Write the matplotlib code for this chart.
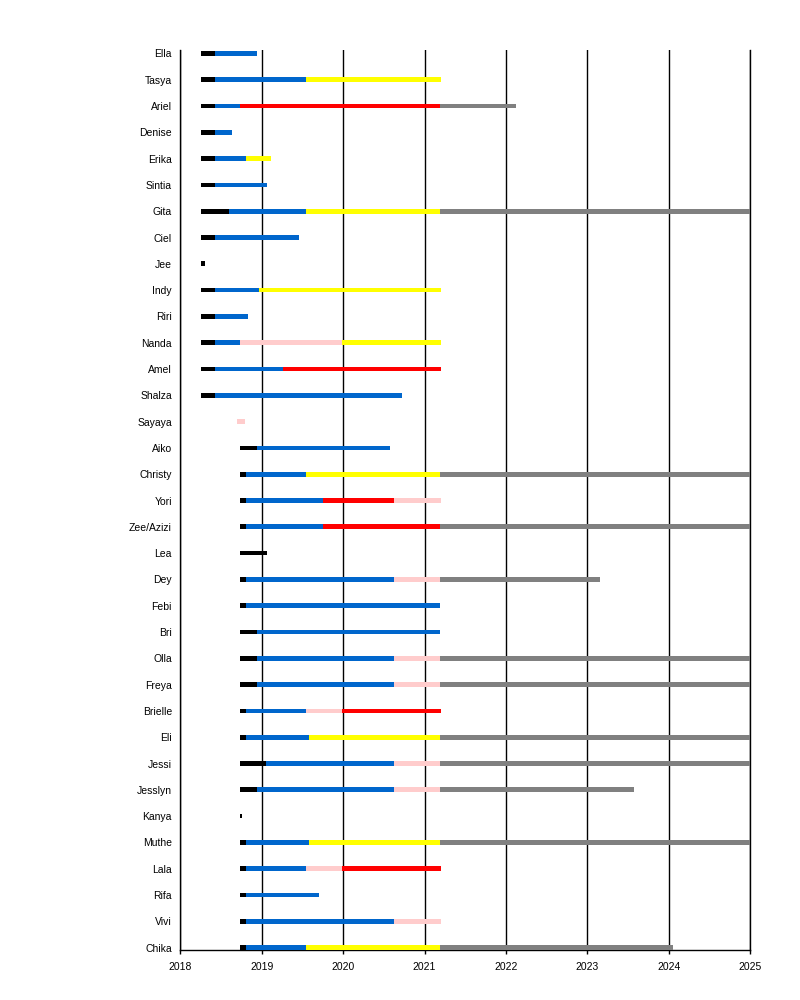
import matplotlib
matplotlib.use('Agg')
import matplotlib.pyplot as plt

plt.rcParams['font.family'] = ['Liberation Sans', 'DejaVu Sans']

# members, top to bottom
names = ['Ella', 'Tasya', 'Ariel', 'Denise', 'Erika', 'Sintia', 'Gita', 'Ciel',
         'Jee', 'Indy', 'Riri', 'Nanda', 'Amel', 'Shalza', 'Sayaya', 'Aiko',
         'Christy', 'Yori', 'Zee/Azizi', 'Lea', 'Dey', 'Febi', 'Bri', 'Olla',
         'Freya', 'Brielle', 'Eli', 'Jessi', 'Jesslyn', 'Kanya', 'Muthe', 'Lala',
         'Rifa', 'Vivi', 'Chika']

# phase boundaries (decimal years) for each member
edges = [
    [2018.254, 2018.426, 2018.942],
    [2018.254, 2018.426, 2019.540, 2021.20],
    [2018.254, 2018.426, 2018.729, 2021.19, 2022.123],
    [2018.254, 2018.426, 2018.635],
    [2018.254, 2018.426, 2018.807, 2019.114],
    [2018.254, 2018.426, 2019.065],
    [2018.254, 2018.598, 2019.540, 2021.19, 2025.0],
    [2018.254, 2018.426, 2019.458],
    [2018.254, 2018.303],
    [2018.254, 2018.426, 2018.966, 2021.20],
    [2018.254, 2018.426, 2018.831],
    [2018.254, 2018.426, 2018.733, 2019.982, 2021.20],
    [2018.254, 2018.426, 2019.265, 2021.20],
    [2018.254, 2018.426, 2020.722],
    [2018.696, 2018.795],
    [2018.733, 2018.942, 2020.571],
    [2018.733, 2018.807, 2019.540, 2021.19, 2025.0],
    [2018.733, 2018.807, 2019.752, 2020.624, 2021.20],
    [2018.733, 2018.807, 2019.752, 2021.19, 2025.0],
    [2018.733, 2019.065],
    [2018.733, 2018.807, 2020.624, 2021.19, 2023.155],
    [2018.733, 2018.807, 2021.19],
    [2018.733, 2018.942, 2021.19],
    [2018.733, 2018.942, 2020.624, 2021.19, 2025.0],
    [2018.733, 2018.942, 2020.624, 2021.19, 2025.0],
    [2018.733, 2018.807, 2019.540, 2019.982, 2021.20],
    [2018.733, 2018.807, 2019.581, 2021.19, 2025.0],
    [2018.733, 2019.053, 2020.624, 2021.19, 2025.0],
    [2018.733, 2018.942, 2020.624, 2021.19, 2023.572],
    [2018.733, 2018.758],
    [2018.733, 2018.807, 2019.581, 2021.19, 2025.0],
    [2018.733, 2018.807, 2019.540, 2019.982, 2021.20],
    [2018.733, 2018.807, 2019.704],
    [2018.733, 2018.807, 2020.624, 2021.20],
    [2018.733, 2018.807, 2019.540, 2021.19, 2024.047],
]

# phase code per segment
phases = ['KB', 'KBY', 'KBRG', 'KB', 'KBY', 'KB', 'KBYG', 'KB', 'K', 'KBY',
          'KB', 'KBPY', 'KBR', 'KB', 'P', 'KB', 'KBYG', 'KBRP', 'KBRG', 'K',
          'KBPG', 'KB', 'KB', 'KBPG', 'KBPG', 'KBPR', 'KBYG', 'KBPG', 'KBPG',
          'K', 'KBYG', 'KBPR', 'KB', 'KBP', 'KBYG']

colors = {'K': '#000000', 'B': '#0066cc', 'Y': '#ffff00', 'R': '#ff0000',
          'P': '#ffcccc', 'G': '#808080'}

fig = plt.figure(figsize=(8, 10), dpi=100)
ax = fig.add_axes([0.2254, 0.05, 0.7125, 0.90])

n = len(names)
for i, name in enumerate(names):
    y = n - 1 - i
    e = edges[i]
    for j, code in enumerate(phases[i]):
        ax.barh(y, e[j + 1] - e[j], left=e[j], height=0.18,
                color=colors[code], linewidth=0, zorder=3)

ax.set_xlim(2018, 2025)
ax.set_ylim(-0.09, n - 1 + 0.13)
ax.set_xticks(range(2018, 2026))
ax.set_yticks(range(n))
ax.set_yticklabels(names[::-1])

ax.grid(axis='x', color='black', linewidth=1.0, zorder=1)
ax.set_axisbelow(True)
ax.spines['top'].set_visible(False)
for s in ['left', 'bottom', 'right']:
    ax.spines[s].set_linewidth(1.0)

ax.tick_params(axis='y', length=0, pad=6, labelsize=7.5)
ax.tick_params(axis='x', length=3, width=1.0, pad=5.5, labelsize=7.5)

fig.savefig('out.png', dpi=100)
